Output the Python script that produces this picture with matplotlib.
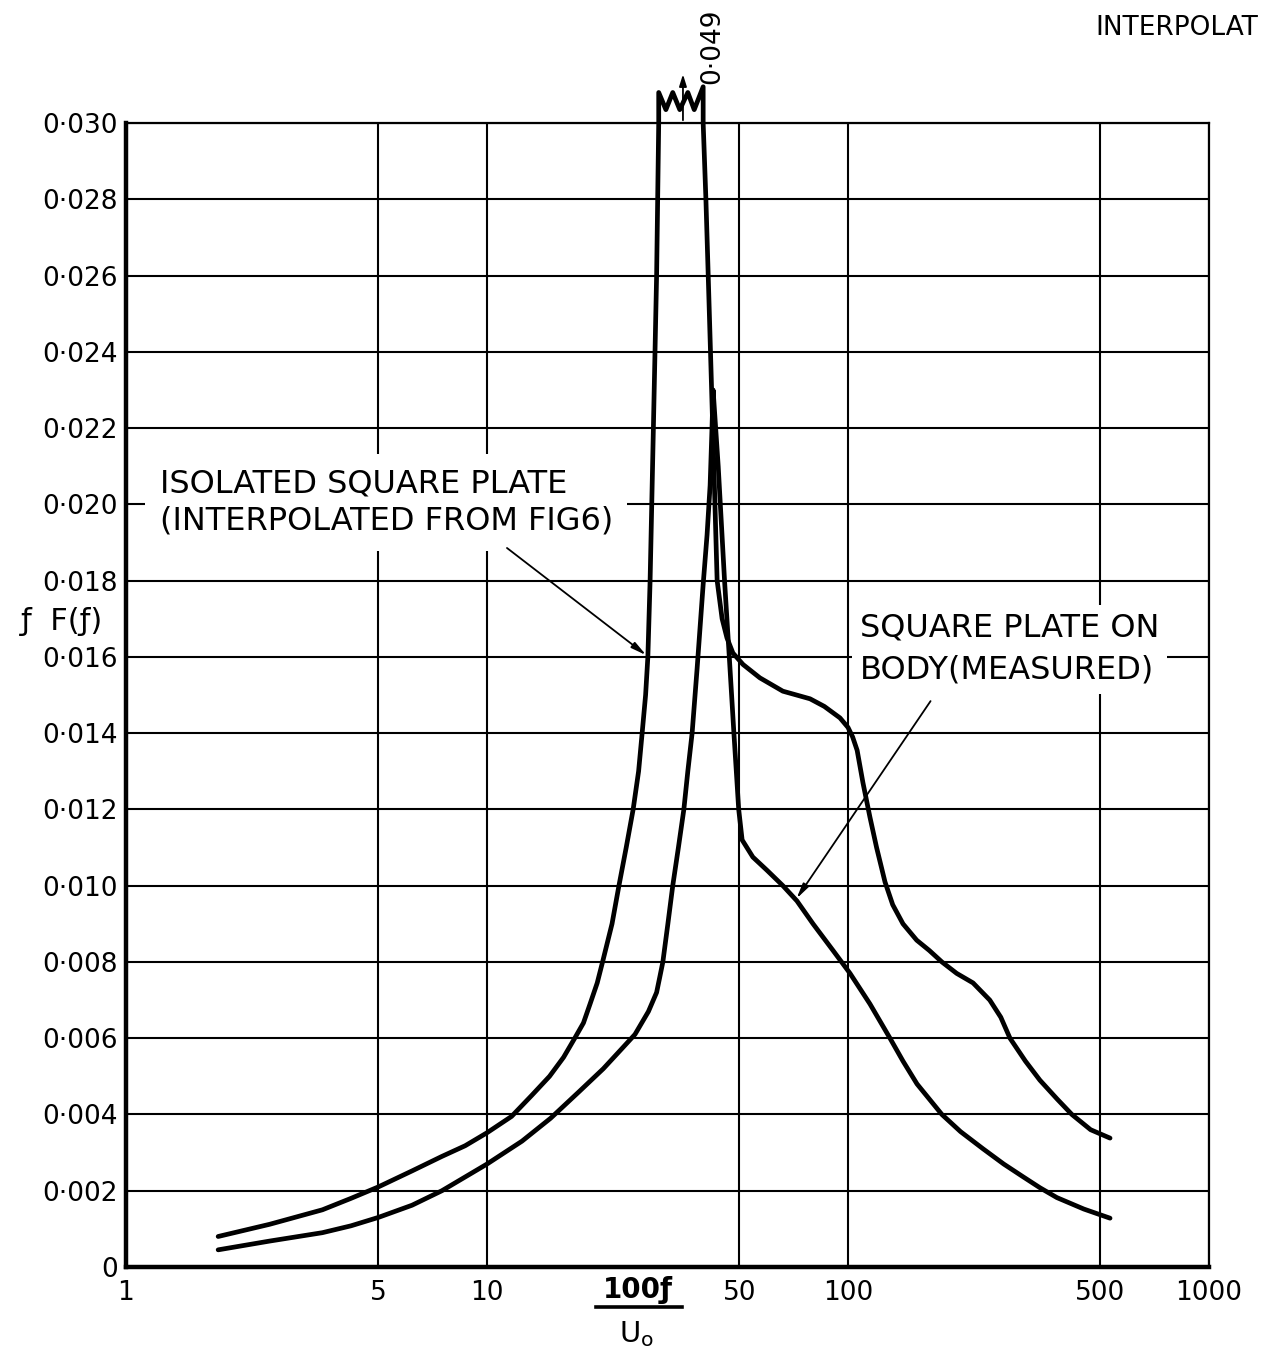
import matplotlib
matplotlib.use("Agg")
import matplotlib.pyplot as plt
from matplotlib.lines import Line2D
from matplotlib.ticker import NullLocator

# ---- isolated square plate (interpolated), rising flank ----
FREQ_ISO_RISE = [1.8, 2.5, 3.5, 4.2, 5, 6.2, 7.5, 8.7, 10, 11.7, 13.3, 14.9,
                 16.3, 17.5, 18.5, 19.3, 20.2, 20.9, 22.2, 23.2, 24.3, 25.4,
                 26.3, 26.9, 27.5, 27.9, 28.3, 28.6, 28.9, 29.2, 29.5, 29.7, 29.9]
FF_ISO_RISE = [0.0008, 0.00112, 0.0015, 0.0018, 0.0021, 0.00252, 0.0029,
               0.00318, 0.00352, 0.00395, 0.0045, 0.0050, 0.0055, 0.0060,
               0.0064, 0.0069, 0.00745, 0.0080, 0.0090, 0.0100, 0.0110, 0.0120,
               0.0130, 0.0140, 0.0150, 0.0160, 0.0180, 0.0200, 0.0220, 0.0240,
               0.0260, 0.0280, 0.0300]

# ---- off-scale peak (broken top, true value 0.049) ----
BREAK_FREQ = [29.9, 29.9, 31.3, 32.7, 34.2, 36.0, 37.5, 39.7]
BREAK_FF = [0.0300, 0.0308, 0.03035, 0.0308, 0.03035, 0.0308, 0.03035, 0.03095]
PEAK_ARROW_FREQ = 34.9
PEAK_LABEL = "0·049"

# ---- isolated square plate, falling flank ----
FREQ_ISO_FALL = [39.7, 40.4, 41.0, 41.6, 42.2, 42.8, 43.4, 44.8, 46.2, 48.0,
                 51.2, 57.0, 66.0, 72.0, 78.5, 86.0, 95.0, 100.0, 103.0, 106.0,
                 110.0, 115.0, 120.0, 126.6, 133.0, 142.0, 155.0, 168.0, 182.0,
                 200.0, 222.0, 247.0, 265.0, 281.0, 310.0, 340.0, 380.0, 417.0,
                 470.0, 532.0]
FF_ISO_FALL = [0.0300, 0.0280, 0.0260, 0.0240, 0.0220, 0.0200, 0.0180, 0.0170,
               0.0165, 0.0161, 0.0158, 0.01545, 0.0151, 0.0150, 0.0149, 0.0147,
               0.0144, 0.01415, 0.0139, 0.01355, 0.0127, 0.0118, 0.0110, 0.0101,
               0.0095, 0.0090, 0.00857, 0.0083, 0.0080, 0.0077, 0.00745, 0.0070,
               0.00655, 0.0060, 0.0054, 0.0049, 0.0044, 0.0040, 0.0036, 0.00338]

# ---- square plate on body (measured) ----
FREQ_MEASURED = [1.8, 2.5, 3.5, 4.2, 5, 6.2, 7.5, 10, 12.5, 15, 18, 21, 23.5,
                 25.7, 28, 29.5, 30.1, 30.7, 31.7, 32.7, 33.9, 35.1, 36.0, 37.0,
                 38.2, 39.7, 40.7, 41.5, 42.0, 42.3, 43.7, 45.5, 46.9, 48.3, 49.8,
                 50.9, 54.5, 59.7, 66.0, 72.2, 80.0, 90.9, 101.3, 115.0, 130.7,
                 142.0, 155.3, 182.0, 205.0, 236.6, 270.0, 305.0, 340.0, 379.0,
                 450.0, 532.0]
FF_MEASURED = [0.00045, 0.00068, 0.0009, 0.00108, 0.0013, 0.00162, 0.0020,
               0.0027, 0.0033, 0.0039, 0.0046, 0.0052, 0.0057, 0.0061, 0.0067,
               0.0072, 0.0076, 0.0080, 0.0090, 0.0100, 0.0110, 0.0120, 0.0130,
               0.0140, 0.0157, 0.0179, 0.0192, 0.0205, 0.0220, 0.0230, 0.0210,
               0.0180, 0.0160, 0.0140, 0.0120, 0.0112, 0.01075, 0.0104, 0.0100,
               0.0096, 0.0090, 0.0083, 0.0077, 0.0069, 0.0060, 0.0054, 0.0048,
               0.0040, 0.00355, 0.0031, 0.0027, 0.00237, 0.00208, 0.00182,
               0.00152, 0.00128]

X_TICKS = [1, 5, 10, 50, 100, 500, 1000]
X_TICK_LABELS = ["1", "5", "10", "50", "100", "500", "1000"]
Y_TICKS = [0.000, 0.002, 0.004, 0.006, 0.008, 0.010, 0.012, 0.014, 0.016,
           0.018, 0.020, 0.022, 0.024, 0.026, 0.028, 0.030]
Y_TICK_LABELS = ["0", "0·002", "0·004", "0·006", "0·008", "0·010", "0·012",
                 "0·014", "0·016", "0·018", "0·020", "0·022", "0·024", "0·026",
                 "0·028", "0·030"]

W, H = 1274, 1358
fig = plt.figure(figsize=(W / 100, H / 100), dpi=100)
fig.patch.set_facecolor("white")
ax = fig.add_axes([126 / W, 91 / H, 1083 / W, 1144 / H])

ax.set_xscale("log")
ax.set_xlim(1, 1000)
ax.set_ylim(0, 0.030)
ax.set_xticks(X_TICKS)
ax.set_xticklabels(X_TICK_LABELS)
ax.xaxis.set_minor_locator(NullLocator())
ax.set_yticks(Y_TICKS)
ax.set_yticklabels(Y_TICK_LABELS)
ax.tick_params(axis="both", length=0, labelsize=19)
ax.tick_params(axis="x", pad=9)
ax.tick_params(axis="y", pad=6)

ax.set_axisbelow(True)
ax.grid(True, which="major", color="black", linewidth=1.5)
for side in ("left", "bottom"):
    ax.spines[side].set_linewidth(3.2)
for side in ("top", "right"):
    ax.spines[side].set_linewidth(1.6)

curve_style = dict(color="black", linewidth=3.4, solid_capstyle="round",
                   solid_joinstyle="round", clip_on=False, zorder=5)

# isolated plate: rising flank, broken top, falling flank as one stroke
iso_x = FREQ_ISO_RISE + BREAK_FREQ[1:] + FREQ_ISO_FALL
iso_y = FF_ISO_RISE + BREAK_FF[1:] + FF_ISO_FALL
ax.plot(iso_x, iso_y, **curve_style)
ax.plot(FREQ_MEASURED, FF_MEASURED, **curve_style)

# off-scale peak marker
ax.annotate("", xy=(PEAK_ARROW_FREQ, 0.03135), xytext=(PEAK_ARROW_FREQ, 0.0300),
            arrowprops=dict(arrowstyle="-|>,head_length=0.7,head_width=0.22",
                            color="black", lw=1.3),
            annotation_clip=False, zorder=6)
ax.text(42.0, 0.0320, PEAK_LABEL, rotation=90, ha="center", va="center",
        fontsize=19, clip_on=False)

# curve labels
ax.text(1.24, 0.02005, "ISOLATED SQUARE PLATE\n(INTERPOLATED FROM FIG6)",
        ha="left", va="center", fontsize=23, linespacing=1.25, zorder=4,
        bbox=dict(boxstyle="square,pad=0.45", fc="white", ec="none"))
ax.annotate("", xy=(28.0, 0.0160), xytext=(11.2, 0.0189),
            arrowprops=dict(arrowstyle="-|>,head_length=0.9,head_width=0.2",
                            color="black", lw=1.3), zorder=6)

ax.text(108.0, 0.0162, "SQUARE PLATE ON\nBODY(MEASURED)",
        ha="left", va="center", fontsize=23, linespacing=1.45, zorder=4,
        bbox=dict(boxstyle="square,pad=0.25", fc="white", ec="none"))
ax.annotate("", xy=(71.3, 0.0096), xytext=(171.0, 0.0149),
            arrowprops=dict(arrowstyle="-|>,head_length=0.9,head_width=0.2",
                            color="black", lw=1.3), zorder=6)

# axis titles
fig.text(62 / W, 1 - 622 / H, "ƒ  F(ƒ)", ha="center", va="center", fontsize=22)
fig.text(638 / W, 1 - 1290 / H, "100ƒ", ha="center", va="center",
         fontsize=20, fontweight="bold")
fig.add_artist(Line2D([596 / W, 682 / W], [1 - 1307 / H, 1 - 1307 / H],
                      color="black", linewidth=2.6))
fig.text(636 / W, 1 - 1334 / H, r"U$_{\rm o}$", ha="center", va="center",
         fontsize=21)

fig.text(1095 / W, 1 - 28 / H, "INTERPOLAT", ha="left", va="center",
         fontsize=19)

fig.savefig("out.png", dpi=100, facecolor="white")
